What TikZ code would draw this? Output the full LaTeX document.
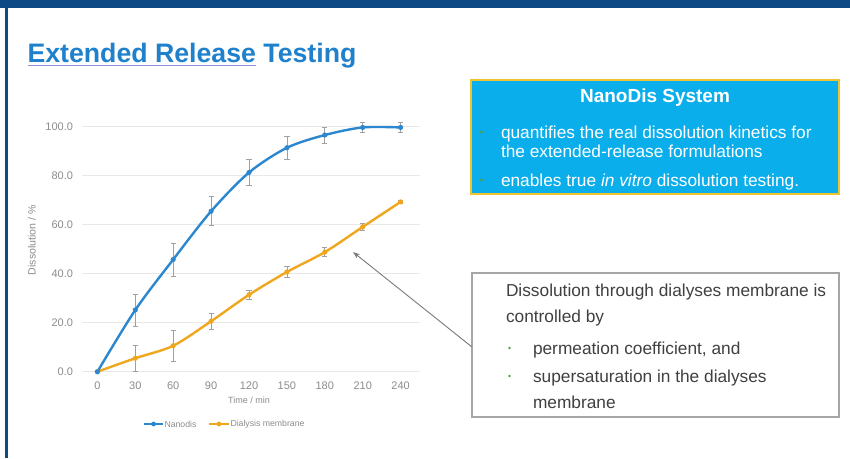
\documentclass[tikz,border=0pt]{standalone}
\usepackage{fontspec}
\setmainfont{Liberation Sans}
\usetikzlibrary{arrows.meta}
\definecolor{barblue}{HTML}{0D4A85}
\definecolor{titleblue}{HTML}{1F80CC}
\definecolor{ulblue}{HTML}{8C93DC}
\definecolor{boxcyan}{HTML}{0AAEEB}
\definecolor{boxgold}{HTML}{F0C430}
\definecolor{bulgreen}{HTML}{4FA040}
\definecolor{txtgray}{HTML}{404040}
\definecolor{boxgray}{HTML}{A6A6A6}
\definecolor{gridgray}{HTML}{E8E8E8}
\definecolor{ticktxt}{HTML}{8C8C8C}
\definecolor{nanoblue}{HTML}{2B88D0}
\definecolor{dialorange}{HTML}{EFA71E}
\definecolor{errgray}{HTML}{A0A0A0}
\definecolor{arrowgray}{HTML}{7A7A7A}
\newcommand\myfs[1]{\fontsize{#1}{#1}\selectfont}
\tikzset{
  plain/.style={inner sep=0pt, outer sep=0pt},
  bluebox/.style={plain, draw=boxgold, line width=2pt, fill=boxcyan, rectangle},
  graybox/.style={plain, draw=boxgray, line width=1.3pt, fill=white, rectangle},
  bodytext/.style={plain, anchor=base west, font=\myfs{17.3}},
  whitetext/.style={bodytext, text=white},
  graytext/.style={bodytext, text=txtgray},
  gbul/.style={plain, circle, fill=bulgreen, minimum size=3.4pt},
  grid/.style={draw=gridgray, line width=0.8pt},
  ticklab/.style={plain, text=ticktxt, font=\myfs{11}},
  err/.style={draw=errgray, line width=0.7pt},
  nanoline/.style={draw=nanoblue, line width=2.4pt, line join=round},
  dialline/.style={draw=dialorange, line width=2.4pt, line join=round},
  arr/.style={draw=arrowgray, line width=0.9pt, -{Stealth[length=7pt,width=5pt]}},
}
\begin{document}
\begin{tikzpicture}[x=1pt, y=-1pt]
\useasboundingbox (0,0) rectangle (850,458);
\fill[white] (0,0) rectangle (850,458);
% frame
\fill[barblue] (0,0) rectangle (850,8);
\fill[barblue] (5,0) rectangle (8.3,458);
% title
\node[plain, anchor=base west, text=titleblue, font=\bfseries\myfs{26.7}] (t1) at (27.5,62) {Extended Release};
\node[plain, anchor=base west, text=titleblue, font=\bfseries\myfs{26.7}] (t2) at ([xshift=7.4pt]t1.base east) {Testing};
\draw[ulblue, line width=1.3pt] ([yshift=-3.6pt]t1.base west) -- ([yshift=-3.6pt]t1.base east);

% chart
\begin{scope}[shift={(97.4,371.7)}, x=1.2633pt, y=2.45pt]
  \foreach \g/\lab in {0/0.0, 20/20.0, 40/40.0, 60/60.0, 80/80.0, 100/100.0} {
    \draw[grid] (-12.2,\g) -- (255.4,\g);
    \node[ticklab, anchor=east] (yl\g) at (-19.3,\g) {\lab};
  }
  \foreach \t in {0,30,...,240} {
    \node[ticklab] (xl\t) at (\t,-5.8) {\t};
  }
  \node[plain, text=ticktxt, font=\myfs{9}] (xt) at (120,-11.6) {Time / min};
  \node[plain, text=ticktxt, font=\myfs{10.6}, rotate=90] (yt) at (-51.8,53.7) {Dissolution / \%};
  % error bars
  \foreach \t/\v/\e in {30/25.2/6.5, 60/45.8/6.7, 90/65.5/5.9, 120/81.3/5.3, 150/91.4/4.6, 180/96.6/3.3, 210/99.7/2.2, 240/99.7/2.1,
                        30/5.5/5.4, 60/10.6/6.4, 90/20.6/3.4, 120/31.4/1.8, 150/40.7/2.2, 180/48.8/1.9, 210/59.1/1.6, 240/69.3/0.6} {
    \draw[err] (\t,{\v-\e}) -- (\t,{\v+\e});
    \draw[err] (\t,{\v+\e}) ++(-2.6pt,0) -- ++(5.2pt,0);
    \draw[err] (\t,{\v-\e}) ++(-2.6pt,0) -- ++(5.2pt,0);
  }
  \draw[dialline] plot[smooth, tension=0.5] coordinates {(0,0) (30,5.5) (60,10.6) (90,20.6) (120,31.4) (150,40.7) (180,48.8) (210,59.1) (240,69.3)};
  \draw[nanoline] plot[smooth, tension=0.5] coordinates {(0,0) (30,25.2) (60,45.8) (90,65.5) (120,81.3) (150,91.4) (180,96.6) (210,99.7) (240,99.7)};
  \foreach \t/\v in {0/0, 30/5.5, 60/10.6, 90/20.6, 120/31.4, 150/40.7, 180/48.8, 210/59.1, 240/69.3}
    \fill[dialorange] (\t,\v) circle (2.6pt);
  \foreach \t/\v in {0/0, 30/25.2, 60/45.8, 90/65.5, 120/81.3, 150/91.4, 180/96.6, 210/99.7, 240/99.7}
    \fill[nanoblue] (\t,\v) circle (2.6pt);
\end{scope}
% legend
\draw[nanoblue, line width=2.2pt] (144,424) -- (163,424);
\fill[nanoblue] (153.5,424) circle (2.4pt);
\node[plain, anchor=west, text=ticktxt, font=\myfs{8.7}] (lg1) at (164.5,424) {Nanodis};
\draw[dialorange, line width=2.2pt] (209,424) -- (229,424);
\fill[dialorange] (219,424) circle (2.4pt);
\node[plain, anchor=west, text=ticktxt, font=\myfs{8.7}] (lg2) at (230.5,424) {Dialysis membrane};

% NanoDis box
\node[bluebox, anchor=north west, minimum width=368pt, minimum height=114pt] (nbox) at (471,80) {};
\node[plain, anchor=base, text=white, font=\bfseries\myfs{19}] (ntitle) at (655,102.5) {NanoDis System};
\node[gbul] (nb1) at (481.5,132) {};
\node[whitetext] (nl1) at (501,138) {quantifies the real dissolution kinetics for};
\node[whitetext] (nl2) at (501,157.5) {the extended-release formulations};
\node[gbul] (nb2) at (481.5,180) {};
\node[whitetext] (nl3) at (501,186) {enables true \textit{in vitro} dissolution testing.};

% gray box
\node[graybox, anchor=north west, minimum width=367pt, minimum height=144pt] (gbox) at (472,273) {};
\node[graytext] (gl1) at (506,296.5) {Dissolution through dialyses membrane is};
\node[graytext] (gl2) at (506,322.5) {controlled by};
\node[gbul, minimum size=2.8pt] (gb1) at (509.5,348) {};
\node[graytext] (gl3) at (533,354) {permeation coefficient, and};
\node[gbul, minimum size=2.8pt] (gb2) at (509.5,376) {};
\node[graytext] (gl4) at (533,382) {supersaturation in the dialyses};
\node[graytext] (gl5) at (533,408) {membrane};

% arrow
\coordinate (tip) at (353,252);
\draw[arr] ([yshift=-2pt]gbox.west) -- (tip);
\end{tikzpicture}
\end{document}
